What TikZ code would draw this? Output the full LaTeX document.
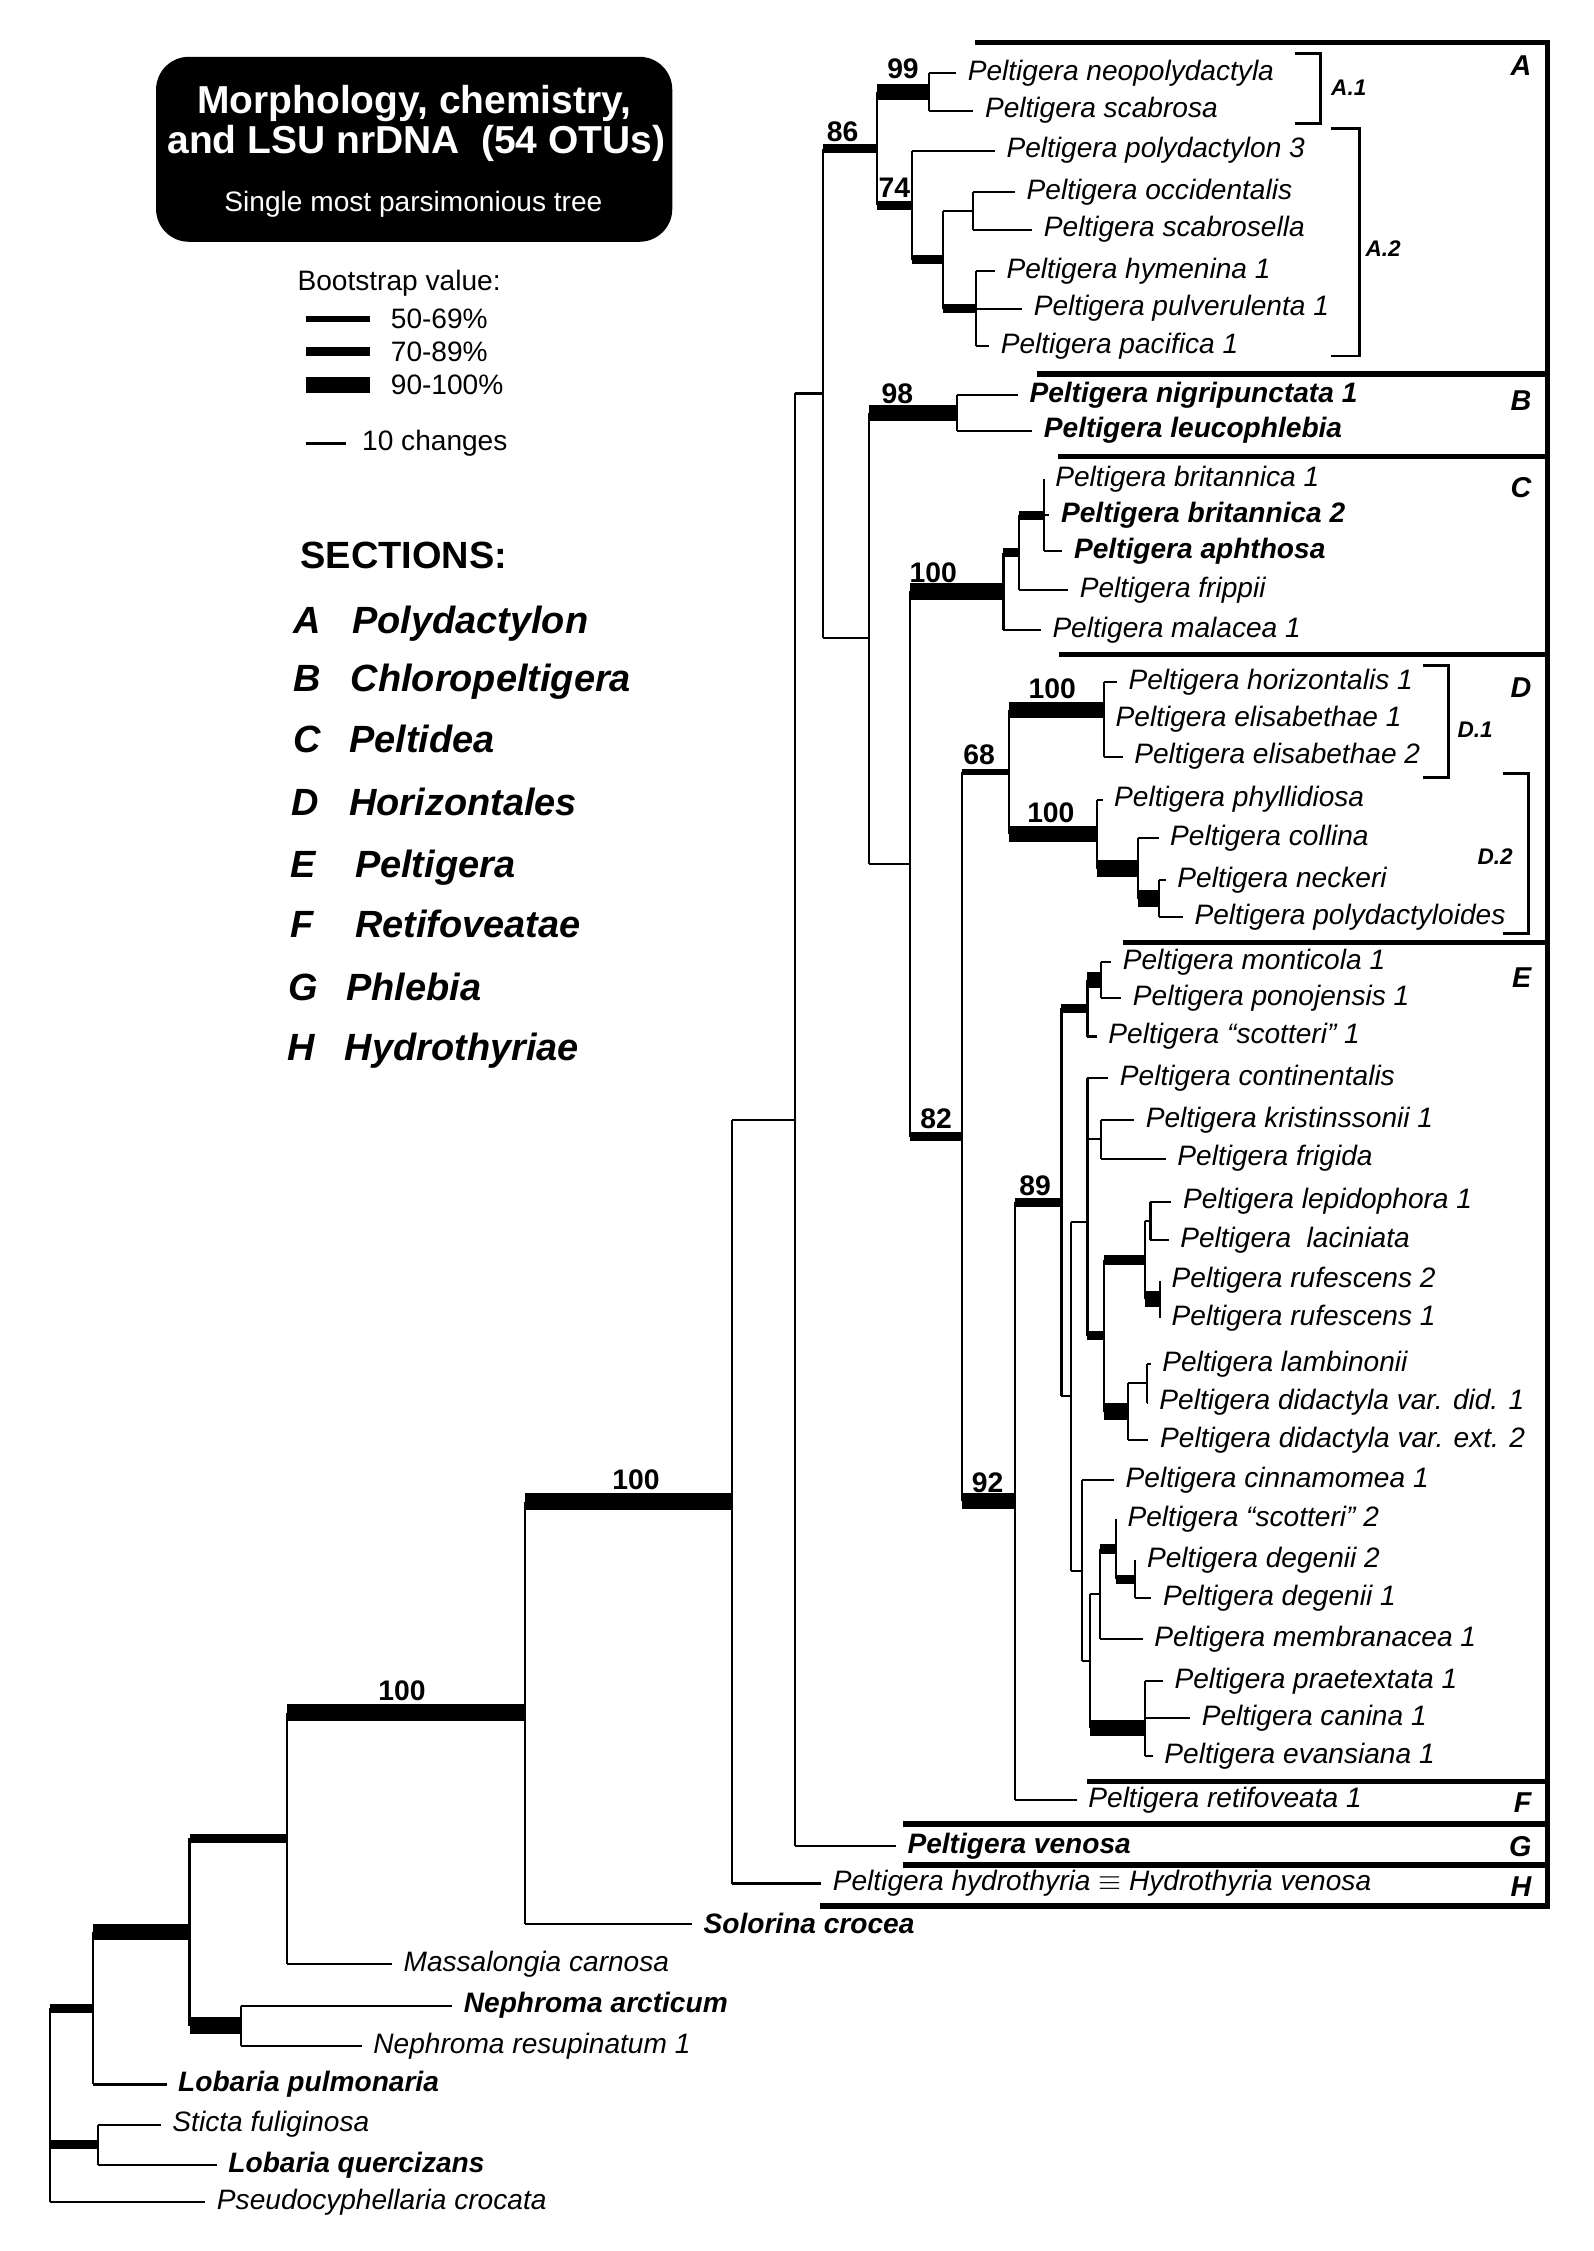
\documentclass[tikz,border=0pt]{standalone}
\usepackage{fontspec}
\setmainfont{Liberation Sans}
\usetikzlibrary{calc}
\tikzset{
  branch/.style={line width=1pt},
  bslow/.style={line width=2.8pt},
  bsmid/.style={line width=4.5pt},
  bshigh/.style={line width=8pt},
  boxline/.style={line width=2.8pt},
  subbracket/.style={line width=1.4pt},
  taxon/.style={anchor=west, inner xsep=5.5pt, inner ysep=0pt, font=\fontsize{13.7}{16}\selectfont\itshape},
  btaxon/.style={taxon, font=\fontsize{13.7}{16}\selectfont\bfseries\itshape},
  bsval/.style={inner sep=0pt, font=\fontsize{13.8}{16}\selectfont\bfseries},
  seclet/.style={anchor=east, inner sep=0pt, font=\fontsize{14}{16}\selectfont\bfseries\itshape},
  subcl/.style={inner sep=0pt, font=\fontsize{11}{13}\selectfont\bfseries\itshape},
  legtext/.style={anchor=west, inner sep=0pt, font=\fontsize{13.7}{16}\selectfont},
  sectext/.style={anchor=base west, inner sep=0pt, font=\fontsize{18.5}{22}\selectfont\bfseries\itshape},
}
% internal node: name, x, first child, last child
\newcommand{\tnode}[4]{%
  \path let \p1=($(#3)!0.5!(#4)$), \p2=(#2,0) in coordinate (#1) at (\x2,\y1);
  \draw[branch] (#1 |- #3) -- (#1 |- #4);}
\newcommand{\leafbr}[3][branch]{\draw[#1] (#2 |- #3) -- (#3.west);}
\newcommand{\innbr}[3][branch]{\draw[#1] (#2 |- #3) -- (#3);}

\begin{document}
\begin{tikzpicture}[x=0.7pt,y=-0.7pt]
  \useasboundingbox (0,0) rectangle (1110,1568);
  \fill[white] (0,0) rectangle (1110,1568);

  % title box
  \node[fill=black, rounded corners=16pt, minimum width=251.7pt, minimum height=90.2pt, inner sep=0pt] (titlebox) at (288.5,104) {};
  \node[white, inner sep=0pt, font=\fontsize{19}{22}\selectfont\bfseries] (title1) at (288.5,72) {Morphology, chemistry,};
  \node[white, inner sep=0pt, font=\fontsize{19}{22}\selectfont\bfseries] (title2) at (290,100) {and LSU nrDNA\ \ (54 OTUs)};
  \node[white, inner sep=0pt, font=\fontsize{13.7}{16}\selectfont] (title3) at (288,142) {Single most parsimonious tree};

  % legend
  \node[legtext] (bootlab) at (207,197) {Bootstrap value:};
  \foreach \lw/\yy/\tx in {2.8pt/222/50-69\%, 4.5pt/245/70-89\%, 8pt/268/90-100\%}{
    \draw[line width=\lw] (213,\yy) -- (258,\yy);
    \node[legtext] (leg\yy) at (272,\yy) {\tx};}
  \draw[line width=1.3pt] (213,309) -- (241,309);
  \node[legtext] (scalelab) at (252,309) {10 changes};

  % sections
  \node[anchor=base west, inner sep=0pt, font=\fontsize{18.5}{22}\selectfont\bfseries] (sechead) at (209,396) {SECTIONS:};
  \foreach \ll/\lx/\nx/\yy/\tx in {A/204/245/441/Polydactylon, B/204/244/482/Chloropeltigera,
      C/204/243/524/Peltidea, D/203/243/568/Horizontales, E/202/247/611/Peltigera,
      F/202/247/653/Retifoveatae, G/201/241/697/Phlebia, H/200/240/739/Hydrothyriae}{
    \node[sectext] (sl\ll) at (\lx,\yy) {\ll};
    \node[sectext] (sn\ll) at (\nx,\yy) {\tx};}

  % section boxes
  \draw[boxline] (679.5,29.6) -- (1078,29.6) -- (1078,1327.7) -- (571,1327.7);
  \foreach \xs/\yy in {722/260.6, 737/318, 738/456, 782/656.6, 757/1241, 629/1270.7, 629/1299.2}
    \draw[boxline] (\xs,\yy) -- (1078,\yy);
  \foreach \ll/\yy in {A/46, B/279, C/340, D/479, E/681, F/1256, G/1286, H/1314}
    \node[seclet] (box\ll) at (1067,\yy) {\ll};

  % subclade brackets
  \draw[subbracket] (902,37.4) -- (920,37.4) -- (920,86) -- (902,86);
  \node[subcl, anchor=west] (subA1) at (927,61) {A.1};
  \draw[subbracket] (927,89.5) -- (946.7,89.5) -- (946.7,248) -- (927,248);
  \node[subcl, anchor=west] (subA2) at (951,173) {A.2};
  \draw[subbracket] (991,463.6) -- (1009,463.6) -- (1009,541.6) -- (991,541.6);
  \node[subcl, anchor=west] (subD1) at (1015,508) {D.1};
  \draw[subbracket] (1047,539) -- (1065,539) -- (1065,650) -- (1047,650);
  \node[subcl, anchor=east] (subD2) at (1054,597) {D.2};

  % terminal taxa
  \foreach \nm/\xx/\yy/\tx in {neopoly/666/51/Peltigera neopolydactyla, scabrosa/678/77/Peltigera scabrosa,
      polyd3/693/105/Peltigera polydactylon 3, occid/707/134/Peltigera occidentalis,
      scabrosel/719/160/Peltigera scabrosella, hymen/693/189/Peltigera hymenina 1,
      pulver/712/215/Peltigera pulverulenta 1, pacif/689/241/Peltigera pacifica 1,
      brit1/727/334/Peltigera britannica 1, frippii/744/411/Peltigera frippii,
      malacea/725/439/Peltigera malacea 1, horiz/778/475/Peltigera horizontalis 1,
      elis1/769/501/Peltigera elisabethae 1, elis2/782/527/Peltigera elisabethae 2,
      phyll/768/557/Peltigera phyllidiosa, collina/807/584/Peltigera collina,
      neckeri/812/613/Peltigera neckeri, polyl/824/639/Peltigera polydactyloides,
      montic/774/670/Peltigera monticola 1, ponoj/781/695/Peltigera ponojensis 1,
      scott1/764/722/Peltigera “scotteri” 1, contin/772/751/Peltigera continentalis,
      krist/790/780/Peltigera kristinssonii 1, frigida/812/807/Peltigera frigida,
      lepido/816/837/Peltigera lepidophora 1, lacin/814/864/Peltigera~ laciniata,
      rufes2/808/892/Peltigera rufescens 2, rufes1/808/918/Peltigera rufescens 1,
      lambin/801.5/950/Peltigera lambinonii, didac1/799.5/977/Peltigera didactyla var. did. 1,
      didac2/800/1003/Peltigera didactyla var. ext. 2, cinnam/776/1031/Peltigera cinnamomea 1,
      scott2/777.3/1058/Peltigera “scotteri” 2, degen2/790.9/1087/Peltigera degenii 2,
      degen1/802/1113/Peltigera degenii 1, membr/796/1142/Peltigera membranacea 1,
      praet/810/1171/Peltigera praetextata 1, canina/829/1197/Peltigera canina 1,
      evans/803/1223/Peltigera evansiana 1, retif/750/1254/Peltigera retifoveata 1,
      hydro/572/1312/Peltigera hydrothyria $\equiv$ Hydrothyria venosa,
      massal/273/1368/Massalongia carnosa, nresup/252/1425/Nephroma resupinatum 1,
      sticta/112/1480/Sticta fuliginosa, pseudo/143/1534/Pseudocyphellaria crocata}
    \node[taxon] (\nm) at (\xx,\yy) {\tx};
  \foreach \nm/\xx/\yy/\tx in {nigri/709/275/Peltigera nigripunctata 1, leuco/719/300/Peltigera leucophlebia,
      brit2/731/359/Peltigera britannica 2, aphth/740/384/Peltigera aphthosa,
      venosa/624/1286/Peltigera venosa, solor/482/1340/Solorina crocea,
      narct/315/1397/Nephroma arcticum, lpulm/116/1452/Lobaria pulmonaria,
      lquer/151/1508/Lobaria quercizans}
    \node[btaxon] (\nm) at (\xx,\yy) {\tx};

  % internal nodes
  \foreach \nm/\xx/\fc/\lc in {n99/647/neopoly/scabrosa, noccid/678/occid/scabrosel, nhym/680/hymen/pacif,
      n657/657/noccid/nhym, n74/635/polyd3/n657, n86/611/n99/n74, n98/666.5/nigri/leuco,
      nbrit/727/brit1/aphth, nfrip/709.5/nbrit/frippii, nC/699/nfrip/malacea,
      nel/769/elis1/elis2, nDa/769/horiz/nel, nneck/807.5/neckeri/polyl, ncoll/793/collina/nneck,
      nDb/764/phyll/ncoll, nD/703/nDa/nDb, nmont/766.6/montic/ponoj, nmontb/757.5/nmont/scott1,
      nkf/766.6/krist/frigida, nlep/801.4/lepido/lacin, nruf/808/rufes2/rufes1, nlr/797.5/nlep/nruf,
      nlam/798.8/lambin/didac1, ndid/786/nlam/didac2, nlrd/769/nlr/ndid, nck/757.5/contin/nkf,
      ncont/757.5/nck/nlrd, ndeg/790.9/degen2/degen1, nsco/777.3/scott2/ndeg, nmem/766.3/nsco/membr,
      nprc/797.8/praet/canina, ncan/797.8/nprc/evans, nlow/759.4/nmem/ncan, ncin/754/cinnam/nlow,
      nEb/746/ncont/ncin, nE/739.4/nmontb/nEb, n92/707/nE/retif, n82/670/nD/n92,
      nCDE/634/nC/n82, nBC/605/n98/nCDE, nAB/573/n86/nBC, nG/554/nAB/venosa, nH/510/nG/hydro,
      nS/365.6/nH/solor, nM/200/nS/massal, nneph/168/narct/nresup, nN/132/nM/nneph,
      nL/65/nN/lpulm, nstic/68/sticta/lquer, root/35/nL/pseudo}
    \tnode{\nm}{\xx}{\fc}{\lc};

  % branches to terminals
  \foreach \pa/\ch in {n99/neopoly, n99/scabrosa, noccid/occid, noccid/scabrosel, nhym/hymen, nhym/pulver,
      nhym/pacif, n74/polyd3, n98/nigri, n98/leuco, nbrit/brit1, nbrit/brit2, nbrit/aphth, nfrip/frippii,
      nC/malacea, nDa/horiz, nel/elis1, nel/elis2, nDb/phyll, ncoll/collina, nneck/neckeri, nneck/polyl,
      nmont/montic, nmont/ponoj, nmontb/scott1, nck/contin, nkf/krist, nkf/frigida, nlep/lepido,
      nlep/lacin, nruf/rufes2, nruf/rufes1, nlam/lambin, nlam/didac1, ndid/didac2, ncin/cinnam,
      nsco/scott2, ndeg/degen2, ndeg/degen1, nmem/membr, nprc/praet, nprc/canina, ncan/evans,
      n92/retif, nG/venosa, nH/hydro, nS/solor, nM/massal, nneph/narct, nneph/nresup, nL/lpulm,
      nstic/sticta, nstic/lquer, root/pseudo}
    \leafbr{\pa}{\ch};

  % internal branches, by bootstrap class
  \foreach \pa/\ch in {n657/noccid, nlr/nlep, ndid/nlam, nck/nkf, ncont/nck, nDa/nel, ncan/nprc,
      nEb/ncont, nEb/ncin, ncin/nlow, nlow/nmem, nE/nEb, nBC/nCDE, nAB/nBC, nG/nAB, nH/nG}
    \innbr{\pa}{\ch};
  \foreach \pa/\ch in {n82/nD}
    \innbr[bslow]{\pa}{\ch};
  \foreach \pa/\ch in {nAB/n86, n86/n74, n74/n657, n657/nhym, nC/nfrip, nfrip/nbrit, nE/nmontb,
      nlrd/nlr, ncont/nlrd, n92/nE, nCDE/n82, nmem/nsco, nsco/ndeg, nN/nM, root/nL, root/nstic}
    \innbr[bsmid]{\pa}{\ch};
  \foreach \pa/\ch in {n86/n99, nBC/n98, nCDE/nC, nD/nDa, nD/nDb, nDb/ncoll, ncoll/nneck, nmontb/nmont,
      nlr/nruf, nlrd/ndid, nlow/ncan, n82/n92, nS/nH, nM/nS, nN/nneph, nL/nN}
    \innbr[bshigh]{\pa}{\ch};

  % bootstrap values
  \foreach \nm/\xx/\yy/\tx in {bs99/629/48/99, bs86/587/92/86, bs74/623/131/74, bs98/625/274/98,
      bsC/650/399/100, bsDa/733/480/100, bs68/682/526/68, bsDb/732/566/100, bs82/652/779/82,
      bs89/721/826/89, bs92/688/1033/92, bsH/443/1031/100, bsS/280/1178/100}
    \node[bsval] (\nm) at (\xx,\yy) {\tx};
\end{tikzpicture}
\end{document}
